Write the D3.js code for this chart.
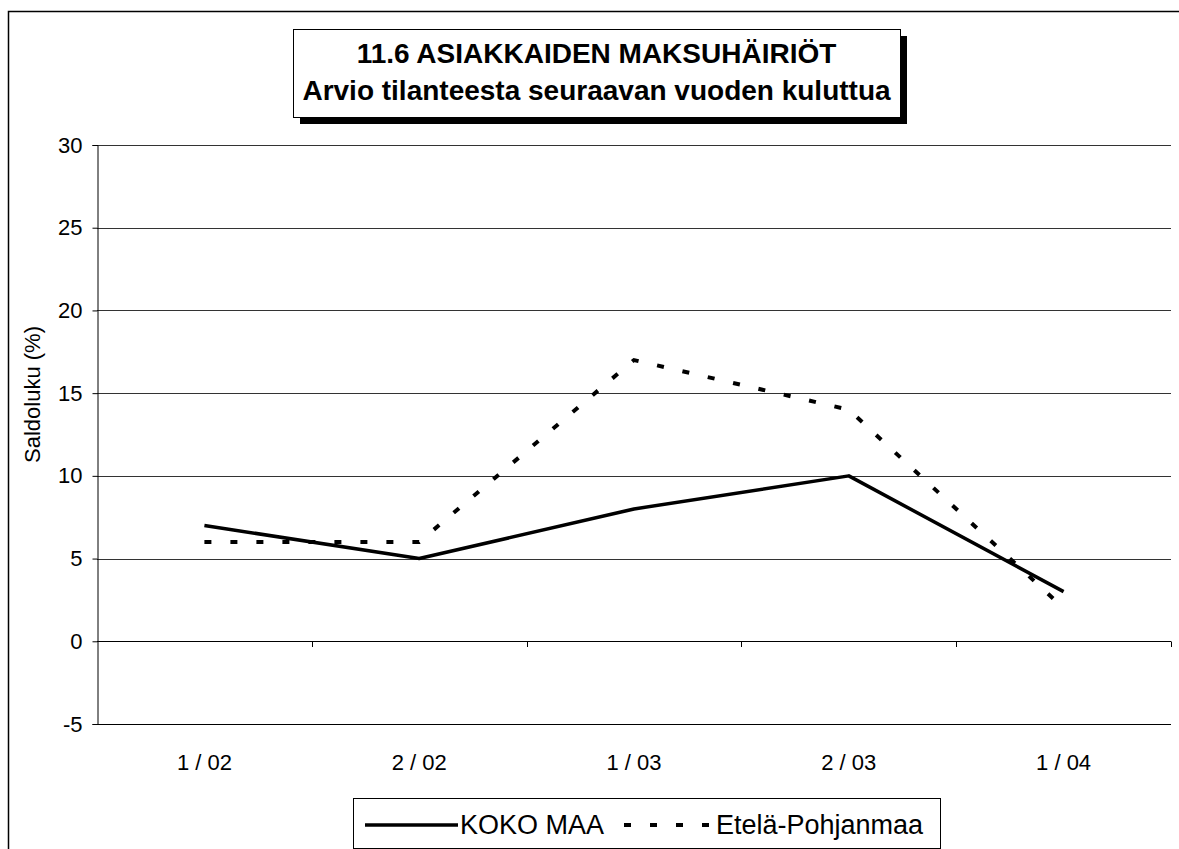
<!DOCTYPE html>
<html><head><meta charset="utf-8">
<script src="https://cdn.jsdelivr.net/npm/d3@7"></script>
<style>body{margin:0;background:#fff;}svg{display:block;font-family:Arial,"Liberation Sans",sans-serif;}</style>
</head><body>
<svg id="c" width="1179" height="849"></svg>
<script>
const categories = ["1 / 02", "2 / 02", "1 / 03", "2 / 03", "1 / 04"];
const kokoMaa = [7, 5, 8, 10, 3];
const etelaPohjanmaa = [6, 6, 17, 14, 2];
const yTicks = [-5, 0, 5, 10, 15, 20, 25, 30];
const titleLines = ["11.6 ASIAKKAIDEN MAKSUHÄIRIÖT", "Arvio tilanteesta seuraavan vuoden kuluttua"];
const yLabel = "Saldoluku (%)";
const seriesNames = ["KOKO MAA", "Etelä-Pohjanmaa"];

const FONT = "Arial, 'Liberation Sans', sans-serif";
const svg = d3.select("#c");
const L = 97, R = 1171, T = 145, B = 724;
const x = d3.scaleBand().domain(categories).range([L, R]);
const y = d3.scaleLinear().domain([-5, 30]).range([B, T]);

// outer frame
svg.append("path").attr("d", "M8.5,849 V11.5 H1179").attr("fill", "none").attr("stroke", "#000").attr("stroke-width", 1.5);

// gridlines
svg.append("g").selectAll("line").data(yTicks.filter(d => d !== -5 && d !== 0)).join("line")
  .attr("x1", L).attr("x2", R).attr("y1", d => Math.round(y(d)) + 0.5).attr("y2", d => Math.round(y(d)) + 0.5)
  .attr("stroke", "#333").attr("stroke-width", 1);

// y axis
const ya = svg.append("g").attr("transform", `translate(${L + 0.5},0)`)
  .call(d3.axisLeft(y).tickValues(yTicks).tickSize(5).tickPadding(10).tickFormat(d => String(d)));
ya.select(".domain").attr("stroke", "#000");
ya.selectAll("text").attr("font-size", 22).attr("fill", "#000").attr("font-family", FONT);
ya.selectAll(".tick line").attr("stroke", "#000");

// bottom line at -5
svg.append("line").attr("x1", L).attr("x2", R).attr("y1", Math.round(y(-5)) + 0.5).attr("y2", Math.round(y(-5)) + 0.5).attr("stroke", "#000");

// x axis at zero with boundary ticks
const bounds = categories.map(c => x(c) + x.bandwidth());
svg.append("g").selectAll("line").data(bounds).join("line")
  .attr("x1", d => Math.round(d) + 0.5).attr("x2", d => Math.round(d) + 0.5)
  .attr("y1", Math.round(y(0)) + 0.5).attr("y2", Math.round(y(0)) + 6)
  .attr("stroke", "#000");
svg.append("line").attr("x1", L).attr("x2", R).attr("y1", Math.round(y(0)) + 0.5).attr("y2", Math.round(y(0)) + 0.5).attr("stroke", "#000");

// category labels
svg.append("g").selectAll("text").data(categories).join("text")
  .attr("x", d => x(d) + x.bandwidth() / 2).attr("y", 770)
  .attr("text-anchor", "middle").attr("font-size", 22).text(d => d);

// y label
svg.append("text").attr("transform", `translate(40,${(T + B) / 2 - 40}) rotate(-90)`)
  .attr("text-anchor", "middle").attr("font-size", 22).text(yLabel);

// lines
const line = d3.line().x((d, i) => x(categories[i]) + x.bandwidth() / 2).y(d => y(d));
svg.append("path").datum(etelaPohjanmaa).attr("d", line).attr("fill", "none")
  .attr("stroke", "#000").attr("stroke-width", 4).attr("stroke-dasharray", "7,19");
svg.append("path").datum(kokoMaa).attr("d", line).attr("fill", "none")
  .attr("stroke", "#000").attr("stroke-width", 3.5).attr("stroke-linejoin", "round");

// title box
const tb = {x: 293, y: 29, w: 607, h: 88};
svg.append("rect").attr("x", tb.x + 7).attr("y", tb.y + 7).attr("width", tb.w).attr("height", tb.h).attr("fill", "#000");
svg.append("rect").attr("x", tb.x + 0.5).attr("y", tb.y + 0.5).attr("width", tb.w).attr("height", tb.h).attr("fill", "#fff").attr("stroke", "#000").attr("stroke-width", 1);
svg.append("g").selectAll("text").data(titleLines).join("text")
  .attr("x", tb.x + tb.w / 2).attr("y", (d, i) => 63 + i * 37)
  .attr("text-anchor", "middle").attr("font-size", 28).attr("font-weight", "bold").text(d => d);

// legend
const lg = svg.append("g");
lg.append("rect").attr("x", 353.5).attr("y", 798.5).attr("width", 587).attr("height", 50).attr("fill", "#fff").attr("stroke", "#000");
lg.append("line").attr("x1", 365).attr("x2", 458).attr("y1", 825).attr("y2", 825).attr("stroke", "#000").attr("stroke-width", 3.5);
lg.append("text").attr("x", 460).attr("y", 834).attr("font-size", 27).text(seriesNames[0]);
lg.append("line").attr("x1", 618).attr("x2", 712).attr("y1", 825).attr("y2", 825).attr("stroke", "#000").attr("stroke-width", 4).attr("stroke-dasharray", "7,19").attr("stroke-dashoffset", -6);
lg.append("text").attr("x", 716).attr("y", 834).attr("font-size", 27).text(seriesNames[1]);
</script>
</body></html>
